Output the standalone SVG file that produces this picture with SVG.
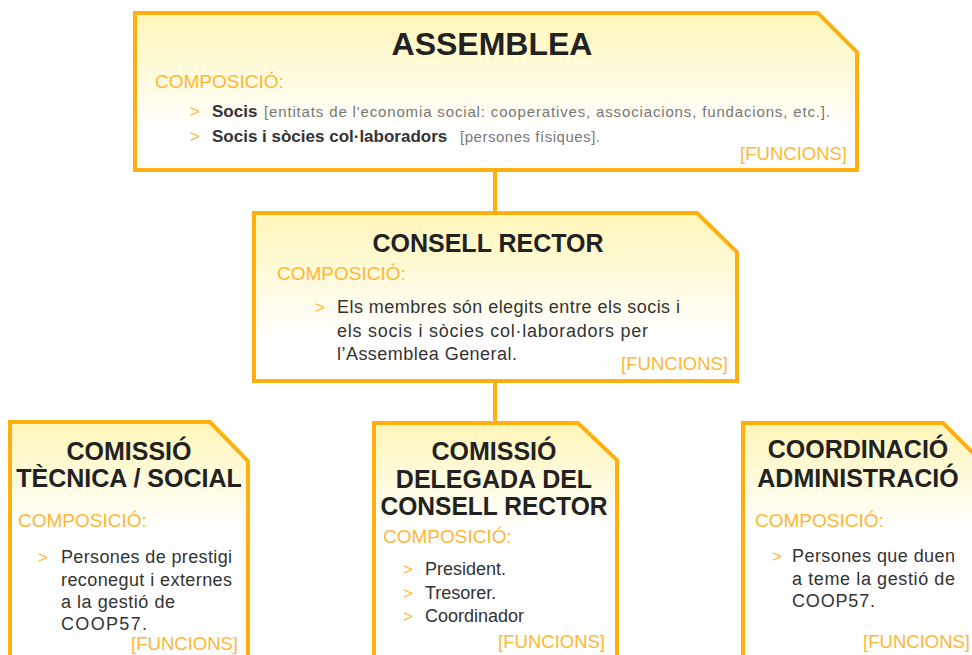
<svg xmlns="http://www.w3.org/2000/svg" width="972" height="655" viewBox="0 0 972 655">
<defs>
<linearGradient id="g" x1="0" y1="0" x2="0" y2="1">
<stop offset="0" stop-color="#FFF6B8"/>
<stop offset="0.75" stop-color="#FFFFFF"/>
</linearGradient>
<linearGradient id="gs" x1="0" y1="0" x2="0" y2="1">
<stop offset="0" stop-color="#FFF6B8"/>
<stop offset="0.45" stop-color="#FFFFFF"/>
</linearGradient>
<style>
.box{stroke:#FFB00F;stroke-width:4;fill:url(#g)}
.boxs{stroke:#FFB00F;stroke-width:4;fill:url(#gs)}
.conn{stroke:#FFB00F;stroke-width:4;fill:none}
text{font-family:"Liberation Sans",Arial,sans-serif}
.t{font-weight:bold;fill:#222;font-size:25px;text-anchor:middle}
.c{fill:#FFB735;font-size:19px}
.a{fill:#FFB735;font-size:17px}
.b{fill:#333;font-size:18px}
.sb{fill:#333;font-size:17px;font-weight:bold}
.g{fill:#777;font-size:15px}
.f{fill:#FFB735;font-size:18.5px;text-anchor:end}
</style>
</defs>
<rect width="972" height="655" fill="#FFFFFF"/>
<g id="connectors">
<line class="conn" x1="495" y1="170" x2="495" y2="213"/>
<line class="conn" x1="495" y1="381" x2="495" y2="423"/>
</g>
<g id="assemblea">
<polygon class="box" points="135,13 818,13 857,52 857,170 135,170"/>
<text class="t" x="492" y="55" style="font-size:32px">ASSEMBLEA</text>
<text class="c" x="155" y="88">COMPOSICIÓ:</text>
<text class="a" x="190" y="117">&gt;</text>
<text class="sb" x="212" y="117">Socis</text>
<text class="g" x="264" y="117" textLength="566" lengthAdjust="spacing">[entitats de l'economia social: cooperatives, associacions, fundacions, etc.].</text>
<text class="a" x="190" y="142">&gt;</text>
<text class="sb" x="212" y="142">Socis i sòcies col·laboradors</text>
<text class="g" x="460" y="142" textLength="140" lengthAdjust="spacing">[persones físiques].</text>
<text class="f" x="847" y="160">[FUNCIONS]</text>
</g>
<g id="consell-rector">
<polygon class="box" points="254,213 697,213 737,252 737,381 254,381"/>
<text class="t" x="488" y="252">CONSELL RECTOR</text>
<text class="c" x="277" y="280">COMPOSICIÓ:</text>
<text class="a" x="315" y="313">&gt;</text>
<text class="b" x="337" y="313" textLength="343" lengthAdjust="spacing">Els membres són elegits entre els socis i</text>
<text class="b" x="337" y="337" textLength="311" lengthAdjust="spacing">els socis i sòcies col·laboradors per</text>
<text class="b" x="337" y="360" textLength="180" lengthAdjust="spacing">l’Assemblea General.</text>
<text class="f" x="728" y="370">[FUNCIONS]</text>
</g>
<g id="comissio-tecnica">
<polygon class="boxs" points="10,422 210,422 248,461 248,665 10,665"/>
<text class="t" x="129" y="460">COMISSIÓ</text>
<text class="t" x="129" y="487">TÈCNICA / SOCIAL</text>
<text class="c" x="18" y="527">COMPOSICIÓ:</text>
<text class="a" x="38" y="563">&gt;</text>
<text class="b" x="61" y="563" textLength="171" lengthAdjust="spacing">Persones de prestigi</text>
<text class="b" x="61" y="585.5" textLength="171" lengthAdjust="spacing">reconegut i externes</text>
<text class="b" x="61" y="608" textLength="114" lengthAdjust="spacing">a la gestió de</text>
<text class="b" x="61" y="630" textLength="86" lengthAdjust="spacing">COOP57.</text>
<text class="f" x="238" y="650">[FUNCIONS]</text>
</g>
<g id="comissio-delegada">
<polygon class="boxs" points="374,423 578,423 617,460 617,665 374,665"/>
<text class="t" x="494" y="460">COMISSIÓ</text>
<text class="t" x="494" y="488">DELEGADA DEL</text>
<text class="t" x="494" y="515" textLength="227" lengthAdjust="spacingAndGlyphs">CONSELL RECTOR</text>
<text class="c" x="383" y="543">COMPOSICIÓ:</text>
<text class="a" x="403" y="575">&gt;</text>
<text class="b" x="425" y="575">President.</text>
<text class="a" x="403" y="598.5">&gt;</text>
<text class="b" x="425" y="598.5">Tresorer.</text>
<text class="a" x="403" y="622">&gt;</text>
<text class="b" x="425" y="622">Coordinador</text>
<text class="f" x="605" y="648">[FUNCIONS]</text>
</g>
<g id="coordinacio">
<polygon class="boxs" points="743,423 943,423 976,456 976,665 743,665"/>
<text class="t" x="858" y="458">COORDINACIÓ</text>
<text class="t" x="858" y="487">ADMINISTRACIÓ</text>
<text class="c" x="755" y="527">COMPOSICIÓ:</text>
<text class="a" x="772" y="562">&gt;</text>
<text class="b" x="792" y="562" textLength="163" lengthAdjust="spacing">Persones que duen</text>
<text class="b" x="792" y="585" textLength="163" lengthAdjust="spacing">a teme la gestió de</text>
<text class="b" x="792" y="607" textLength="83" lengthAdjust="spacing">COOP57.</text>
<text class="f" x="970" y="648">[FUNCIONS]</text>
</g>
</svg>
